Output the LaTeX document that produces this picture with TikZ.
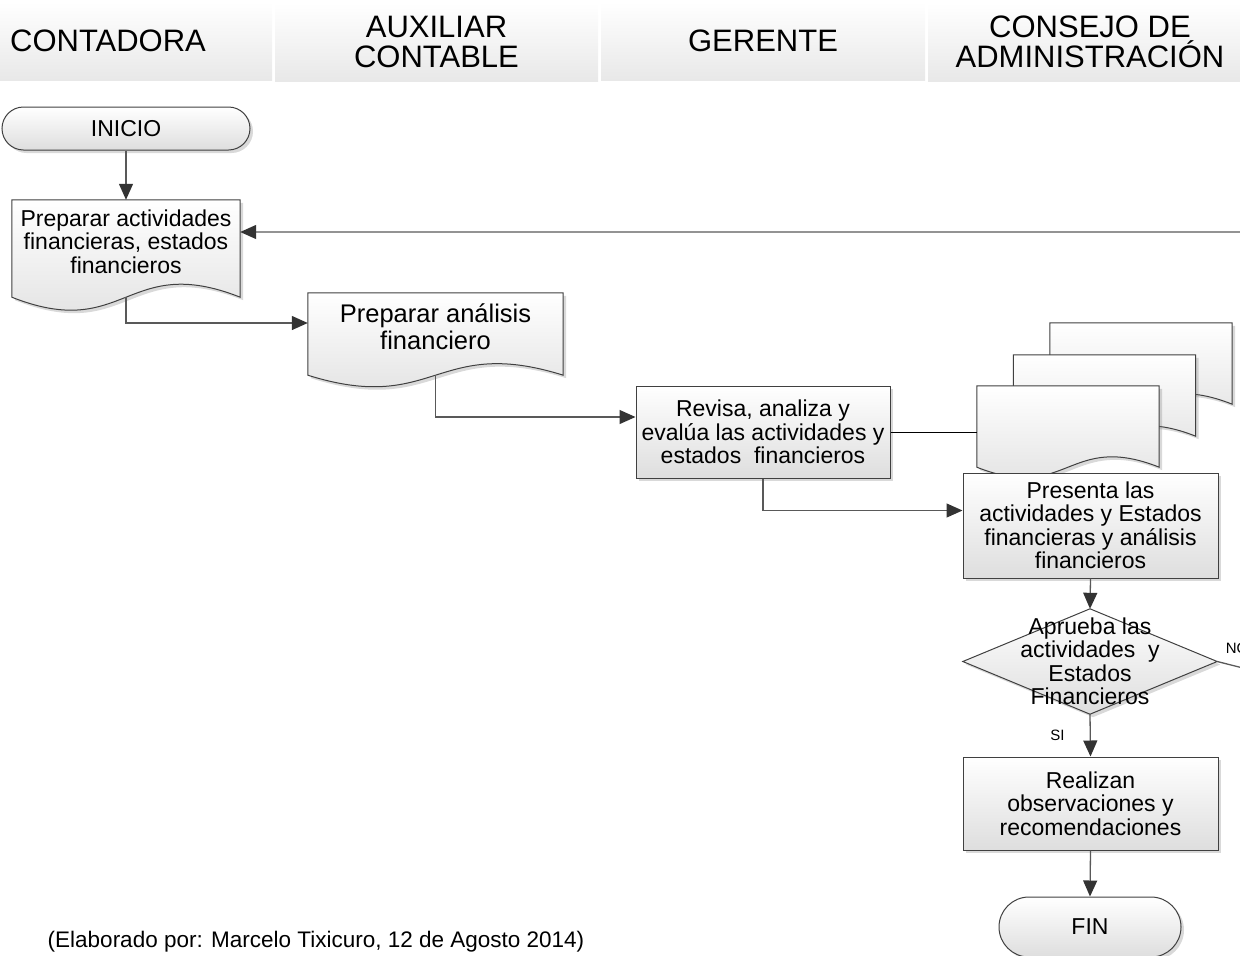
\documentclass[tikz,border=0pt]{standalone}
\usepackage{fontspec}
\setmainfont{Liberation Sans}
\usetikzlibrary{arrows.meta,shadows,backgrounds}

\tikzset{
  lanehead/.style={minimum height=78pt, inner sep=0pt, align=center,
    top color=white, bottom color=black!9, font=\fontsize{31}{30}\selectfont},
  txt/.style={align=center, inner sep=0pt, font=\fontsize{23}{23.5}\selectfont},
  shade/.style={draw=black!75, line width=1pt, top color=white, bottom color=black!13,
    drop shadow={shadow xshift=3pt, shadow yshift=-3pt, fill=black!50, opacity=0.3}},
  procbox/.style={txt, shade},
  flow/.style={draw=black!65, line width=1.3pt, -{Triangle[length=16pt,width=14pt,color=black!80]}},
  plainline/.style={draw=black, line width=1pt},
  lbl/.style={inner sep=0pt, font=\fontsize{15}{15}\selectfont}
}

\begin{document}
\begin{tikzpicture}[x=1pt, y=-1pt]
\useasboundingbox (0,0) rectangle (1240,956);
\clip (0,0) rectangle (1240,956);

% Lanes
\node[lanehead, minimum width=328pt] (lane1) at (108,41) {CONTADORA};
\node[lanehead, minimum width=323pt] (lane2) at (436.5,42) {AUXILIAR\\CONTABLE};
\node[lanehead, minimum width=324pt] (lane3) at (763,41) {GERENTE};
\node[lanehead, minimum width=324pt] (lane4) at (1090,42) {CONSEJO DE\\ADMINISTRACIÓN};

% Steps
\node[procbox, rounded corners=21.5pt, minimum width=248pt, minimum height=43pt] (inicio) at (126,128.5) {INICIO};
\node[txt, minimum width=228pt, minimum height=83pt] (doc1) at (126,241.5) {Preparar actividades\\financieras, estados\\financieros};
\node[txt, font=\fontsize{25.5}{27}\selectfont, minimum width=255pt, minimum height=68pt] (doc2) at (435.5,327) {Preparar análisis\\financiero};
\node[procbox, minimum width=254pt, minimum height=92pt] (revisa) at (763,432) {Revisa, analiza y\\evalúa las actividades y\\estados\ \ financieros};
\foreach \n/\x/\y in {mdback/1141/356.5, mdmid/1104.5/388.5, mdfront/1068/419.5}
  \node[txt, minimum width=182pt, minimum height=67pt] (\n) at (\x,\y) {};
\node[procbox, minimum width=255pt, minimum height=105pt] (presenta) at (1090.5,525.5) {Presenta las\\actividades y Estados\\financieras y análisis\\financieros};
\node[txt, minimum width=254pt, minimum height=105pt] (aprueba) at (1090,661.5) {Aprueba las\\actividades\ \ y\\Estados\\Financieros};
\node[procbox, minimum width=255pt, minimum height=93pt] (realizan) at (1090.5,803.5) {Realizan\\observaciones y\\recomendaciones};
\node[procbox, rounded corners=30pt, minimum width=182pt, minimum height=60pt] (fin) at (1090,927) {FIN};
\node[txt, font=\fontsize{22.5}{23.5}\selectfont] (credito) at (316,942) {(Elaborado por: Marcelo Tixicuro, 12 de Agosto 2014)};

% Document shapes and decision
\begin{scope}[on background layer]
\path[shade] (doc1.north west) -- (doc1.north east) -- ([yshift=-14pt]doc1.south east)
  .. controls +(-114,-45) and +(114,45) .. ([yshift=-14pt]doc1.south west) -- cycle;
\path[shade] (doc2.north west) -- (doc2.north east) -- ([yshift=-14pt]doc2.south east)
  .. controls +(-127.5,-40) and +(127.5,40) .. ([yshift=-14pt]doc2.south west) -- cycle;
\foreach \n in {mdback, mdmid, mdfront}
  \path[shade] (\n.north west) -- (\n.north east) -- ([yshift=-14pt]\n.south east)
    .. controls +(-91,-36) and +(91,36) .. ([yshift=-14pt]\n.south west) -- cycle;
\path[shade] (aprueba.west) -- (aprueba.north) -- (aprueba.east) -- (aprueba.south) -- cycle;
\end{scope}

% Connectors
\coordinate (vuelta) at (1330,690);
\draw[flow] (inicio.south) -- (doc1.north);
\draw[flow] ([yshift=-14pt]doc1.south) |- ([yshift=4pt]doc2.west);
\draw[flow] ([yshift=-14pt]doc2.south) |- ([yshift=15pt]revisa.west);
\draw[plainline] (revisa.east) -- (revisa.east -| mdfront.west);
\draw[flow] (revisa.south) |- ([yshift=15pt]presenta.west);
\draw[flow] (presenta.south) -- (aprueba.north);
\draw[flow] (aprueba.south) -- node[lbl, left=25pt] {SI} (realizan.north);
\draw[flow] (realizan.south) -- (fin.north);
\draw[flow] (aprueba.east) -- node[lbl, at start, anchor=south west, xshift=8pt, yshift=7.5pt] {NO} (vuelta)
  |- ([yshift=9.5pt]doc1.east);

\end{tikzpicture}
\end{document}
